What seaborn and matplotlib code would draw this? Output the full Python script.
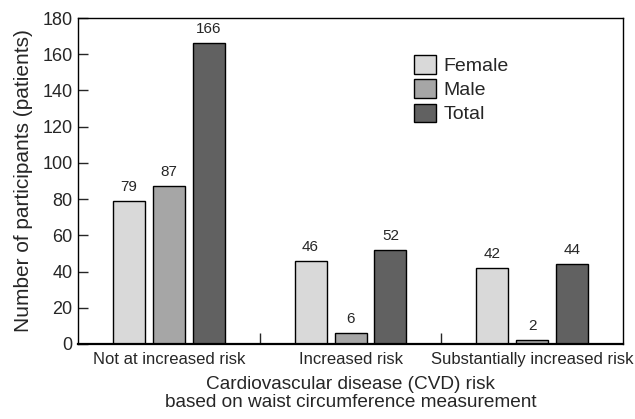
import matplotlib
matplotlib.use("Agg")
import matplotlib.pyplot as plt
import numpy as np
import pandas as pd
import seaborn as sns

categories = ["Not at increased risk", "Increased risk", "Substantially increased risk"]
groups = ["Female", "Male", "Total"]
female = [79, 46, 42]
male = [87, 6, 2]
total = [166, 52, 44]

df = pd.DataFrame({
    "risk": categories * 3,
    "group": ["Female"] * 3 + ["Male"] * 3 + ["Total"] * 3,
    "n": female + male + total,
})

sns.set_style("ticks")
plt.rcParams["font.family"] = ["Liberation Sans", "DejaVu Sans"]

fig = plt.figure(figsize=(6.35, 4.19), dpi=100)
ax = fig.add_axes([0.123, 0.179, 0.858, 0.778])

pal = {"Female": "#d9d9d9", "Male": "#a6a6a6", "Total": "#616161"}
sns.barplot(data=df, x="risk", y="n", hue="group", hue_order=groups,
            order=categories, palette=pal, width=0.66, gap=0.2,
            edgecolor="black", linewidth=1.0, saturation=1, ax=ax)

for c in ax.containers:
    ax.bar_label(c, padding=5, fontsize=11)

ax.set_xlim(-0.5, 2.5)
ax.set_ylim(0, 180)
ax.set_yticks(range(0, 181, 20))
ax.tick_params(axis="y", direction="in", length=7, labelsize=13, width=1, pad=4)
ax.tick_params(axis="x", which="major", length=0, labelsize=12, pad=6)
ax.set_xticks([0.5, 1.5], minor=True)
ax.tick_params(axis="x", which="minor", direction="in", length=8, width=1)
for s in ax.spines.values():
    s.set_linewidth(1.0)
    s.set_color("black")
ax.spines["bottom"].set_linewidth(1.6)

ax.set_ylabel("Number of participants (patients)", fontsize=15, labelpad=7)
ax.set_xlabel("Cardiovascular disease (CVD) risk\nbased on waist circumference measurement",
              fontsize=13.7, labelpad=6, linespacing=1.12)

ax.legend(loc="upper left", bbox_to_anchor=(0.585, 0.94), frameon=False,
          fontsize=14, handlelength=1.1, handleheight=1.1, labelspacing=0.22,
          handletextpad=0.4)

fig.savefig("out.png", dpi=100)
